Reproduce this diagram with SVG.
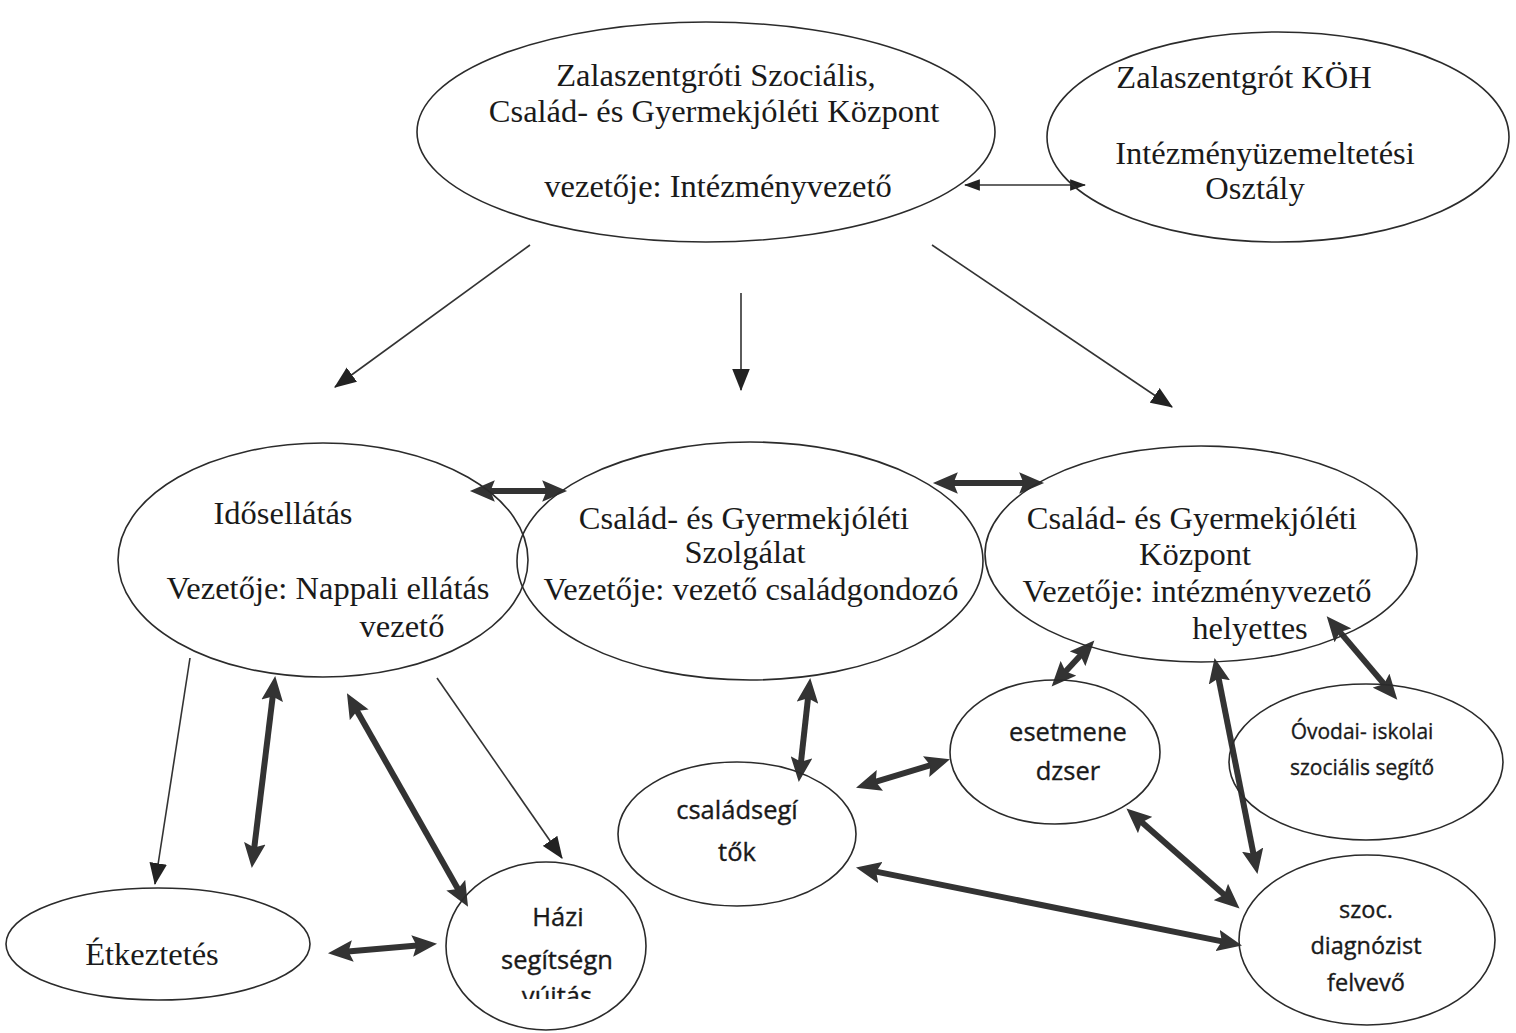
<svg xmlns="http://www.w3.org/2000/svg" width="1516" height="1033" viewBox="0 0 1516 1033">
<defs>
<style>
.el{fill:none;stroke:#2b2b2b;stroke-width:1.6}
.sr{font-family:"Liberation Serif","Times New Roman",serif;font-size:32.5px;fill:#1a1a1a;text-anchor:middle}
.sn{font-family:"Open Sans","Liberation Sans",sans-serif;font-size:25.5px;fill:#1a1a1a;stroke:#1a1a1a;stroke-width:0.35;text-anchor:middle}
.sd{font-family:"Open Sans","Liberation Sans",sans-serif;font-size:23.5px;fill:#1a1a1a;stroke:#1a1a1a;stroke-width:0.35;text-anchor:middle}
.sm{font-family:"Open Sans","Liberation Sans",sans-serif;font-size:21px;fill:#1a1a1a;stroke:#1a1a1a;stroke-width:0.3;text-anchor:middle}
.thin{fill:none;stroke:#333;stroke-width:1.6}
.thick{fill:none;stroke:#333;stroke-width:6}
</style>
<marker id="ah" markerUnits="userSpaceOnUse" markerWidth="22" markerHeight="18" refX="19" refY="8" orient="auto-start-reverse" viewBox="0 0 20 16">
<path d="M0,0 L20,8 L0,16 z" fill="#222"/>
</marker>
<marker id="ahs" markerUnits="userSpaceOnUse" markerWidth="16" markerHeight="12" refX="13" refY="5" orient="auto-start-reverse" viewBox="0 0 14 10">
<path d="M0,0 L14,5 L0,10 z" fill="#222"/>
</marker>
<marker id="ahb" markerUnits="userSpaceOnUse" markerWidth="26" markerHeight="22" refX="10" refY="10" orient="auto-start-reverse" viewBox="0 0 24 20">
<path d="M0,0 L23,10 L0,20 L4,10 z" fill="#333"/>
</marker>
<clipPath id="haziclip"><rect x="440" y="850" width="220" height="149"/></clipPath>
</defs>
<rect width="1516" height="1033" fill="#ffffff"/>

<g id="connectors">
<line class="thin" x1="965" y1="185" x2="1085" y2="185" marker-start="url(#ahs)" marker-end="url(#ahs)"/>
<line class="thin" x1="530" y1="245" x2="335" y2="387" marker-end="url(#ah)"/>
<line class="thin" x1="741" y1="293" x2="741" y2="390" marker-end="url(#ah)"/>
<line class="thin" x1="932" y1="245" x2="1172" y2="407" marker-end="url(#ah)"/>
<line class="thin" x1="190" y1="658" x2="155" y2="884" marker-end="url(#ah)"/>
<line class="thin" x1="437" y1="678" x2="562" y2="858" marker-end="url(#ah)"/>

<line class="thick" x1="484" y1="491" x2="553" y2="491" marker-start="url(#ahb)" marker-end="url(#ahb)"/>
<line class="thick" x1="947" y1="483" x2="1030" y2="483" marker-start="url(#ahb)" marker-end="url(#ahb)"/>
<line class="thick" x1="273.5" y1="690" x2="253.5" y2="854" marker-start="url(#ahb)" marker-end="url(#ahb)"/>
<line class="thick" x1="353.9" y1="705.4" x2="461.1" y2="894.6" marker-start="url(#ahb)" marker-end="url(#ahb)"/>
<line class="thick" x1="342" y1="952" x2="423" y2="945" marker-start="url(#ahb)" marker-end="url(#ahb)"/>
<line class="thick" x1="808.7" y1="691.9" x2="800.3" y2="768.1" marker-start="url(#ahb)" marker-end="url(#ahb)"/>
<line class="thick" x1="869.5" y1="783.6" x2="936.5" y2="763.4" marker-start="url(#ahb)" marker-end="url(#ahb)"/>
<line class="thick" x1="1084.8" y1="650.8" x2="1061.2" y2="676.2" marker-start="url(#ahb)" marker-end="url(#ahb)"/>
<line class="thick" x1="1217.3" y1="671.8" x2="1254.7" y2="860.2" marker-start="url(#ahb)" marker-end="url(#ahb)"/>
<line class="thick" x1="1335.8" y1="627.1" x2="1388.2" y2="688.9" marker-start="url(#ahb)" marker-end="url(#ahb)"/>
<line class="thick" x1="1137" y1="817.9" x2="1229" y2="899.1" marker-start="url(#ahb)" marker-end="url(#ahb)"/>
<line class="thick" x1="869.8" y1="870.4" x2="1228.2" y2="942.6" marker-start="url(#ahb)" marker-end="url(#ahb)"/>
</g>

<g id="kozpont-fo">
<ellipse class="el" cx="706" cy="132" rx="289" ry="110"/>
<text class="sr" x="716" y="86">Zalaszentgróti Szociális,</text>
<text class="sr" x="714" y="122">Család- és Gyermekjóléti Központ</text>
<text class="sr" x="718" y="197">vezetője: Intézményvezető</text>
</g>

<g id="koh">
<ellipse class="el" cx="1278" cy="137" rx="231" ry="105"/>
<text class="sr" x="1244" y="88">Zalaszentgrót KÖH</text>
<text class="sr" x="1265" y="164">Intézményüzemeltetési</text>
<text class="sr" x="1255" y="199">Osztály</text>
</g>

<g id="idosellatas">
<ellipse class="el" cx="323" cy="560" rx="205" ry="117"/>
<text class="sr" x="283" y="524">Idősellátás</text>
<text class="sr" x="328" y="599">Vezetője: Nappali ellátás</text>
<text class="sr" x="402" y="637">vezető</text>
</g>

<g id="szolgalat">
<ellipse class="el" cx="750" cy="561" rx="233" ry="119"/>
<text class="sr" x="744" y="529">Család- és Gyermekjóléti</text>
<text class="sr" x="745" y="563">Szolgálat</text>
<text class="sr" x="751" y="600">Vezetője: vezető családgondozó</text>
</g>

<g id="kozpont">
<ellipse class="el" cx="1201" cy="554" rx="216" ry="108"/>
<text class="sr" x="1192" y="529">Család- és Gyermekjóléti</text>
<text class="sr" x="1195" y="565">Központ</text>
<text class="sr" x="1197" y="602">Vezetője: intézményvezető</text>
<text class="sr" x="1250" y="639">helyettes</text>
</g>

<g id="etkeztetes">
<ellipse class="el" cx="158" cy="944" rx="152" ry="56"/>
<text class="sr" x="152" y="965">Étkeztetés</text>
</g>

<g id="hazi">
<ellipse class="el" cx="546" cy="946" rx="100" ry="84"/>
<text class="sn" x="558" y="926">Házi</text>
<text class="sn" x="557" y="969">segítségn</text>
<text class="sn" x="557" y="1005" clip-path="url(#haziclip)">yújtás</text>
</g>

<g id="csaladsegitok">
<ellipse class="el" cx="737" cy="834" rx="119" ry="72"/>
<text class="sn" x="737" y="819">családsegí</text>
<text class="sn" x="737" y="861">tők</text>
</g>

<g id="esetmenedzser">
<ellipse class="el" cx="1055" cy="752" rx="105" ry="72"/>
<text class="sn" x="1068" y="741">esetmene</text>
<text class="sn" x="1068" y="780">dzser</text>
</g>

<g id="ovodai">
<ellipse class="el" cx="1366" cy="762" rx="137" ry="78"/>
<text class="sm" x="1362" y="739">Óvodai- iskolai</text>
<text class="sm" x="1362" y="775">szociális segítő</text>
</g>

<g id="szoc">
<ellipse class="el" cx="1367" cy="940" rx="128" ry="85"/>
<text class="sd" x="1366" y="918">szoc.</text>
<text class="sd" x="1366" y="954">diagnózist</text>
<text class="sd" x="1366" y="991">felvevő</text>
</g>
</svg>
